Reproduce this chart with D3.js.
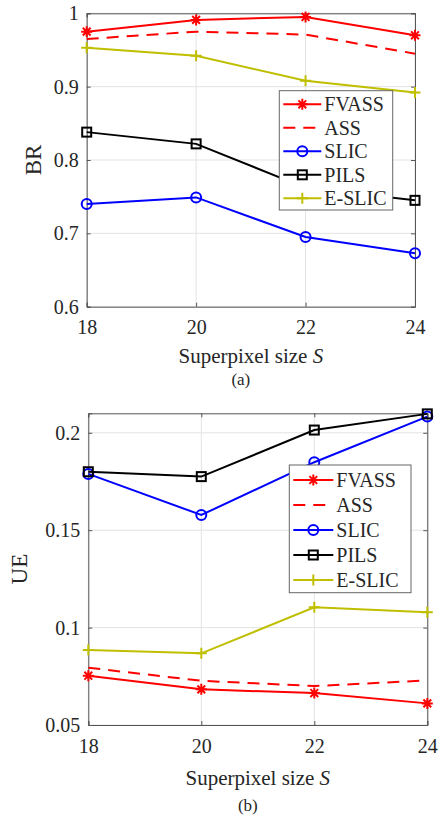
<!DOCTYPE html>
<html>
<head>
<meta charset="utf-8">
<script src="https://cdn.jsdelivr.net/npm/d3@7"></script>
<style>
  html, body { margin: 0; padding: 0; background: #fff; }
  svg { display: block; }
</style>
</head>
<body>
<svg id="fig" width="439" height="819"></svg>
<script>
// Superpixel sizes on the x axis
const sizes = [18, 20, 22, 24];

// Boundary recall (BR)
const brFVASS = [0.975, 0.991, 0.995, 0.970];
const brASS   = [0.965, 0.975, 0.971, 0.945];
const brSLIC  = [0.740, 0.749, 0.695, 0.673];
const brPILS  = [0.838, 0.822, 0.762, 0.745];
const brESLIC = [0.953, 0.942, 0.908, 0.892];
const brTicks = [0.6, 0.7, 0.8, 0.9, 1];
const brTickLabels = ["0.6", "0.7", "0.8", "0.9", "1"];

// Under-segmentation error (UE)
const ueFVASS = [0.0753, 0.0683, 0.0664, 0.0611];
const ueASS   = [0.0794, 0.0727, 0.0700, 0.0729];
const ueSLIC  = [0.1789, 0.1578, 0.1849, 0.2083];
const uePILS  = [0.1800, 0.1775, 0.2014, 0.2097];
const ueESLIC = [0.0885, 0.0868, 0.1104, 0.1079];
const ueTicks = [0.05, 0.1, 0.15, 0.2];
const ueTickLabels = ["0.05", "0.1", "0.15", "0.2"];

const methods = ["FVASS", "ASS", "SLIC", "PILS", "E-SLIC"];

const styles = {
  "FVASS":  { color: "#ff0000", dash: null,   marker: "star" },
  "ASS":    { color: "#ff0000", dash: "12,8", marker: null },
  "SLIC":   { color: "#0000ff", dash: null,   marker: "circle" },
  "PILS":   { color: "#000000", dash: null,   marker: "square" },
  "E-SLIC": { color: "#bfbf00", dash: null,   marker: "plus" }
};

const FONT = '"Liberation Serif"';
const TEXT_COLOR = "#262626";

const svg = d3.select("#fig").style("font-family", FONT);

function drawMarker(g, type, cx, cy, color) {
  if (type === "circle") {
    g.append("circle").attr("cx", cx).attr("cy", cy).attr("r", 5)
      .attr("fill", "none").attr("stroke", color).attr("stroke-width", 2);
  } else if (type === "square") {
    g.append("rect").attr("x", cx - 4.5).attr("y", cy - 4.5)
      .attr("width", 9).attr("height", 9)
      .attr("fill", "none").attr("stroke", color).attr("stroke-width", 2);
  } else if (type === "plus") {
    const r = 5.5;
    g.append("path").attr("d", `M${cx - r},${cy}H${cx + r}M${cx},${cy - r}V${cy + r}`)
      .attr("stroke", color).attr("stroke-width", 2).attr("fill", "none");
  } else if (type === "star") {
    const r = 5.5, d = r * Math.SQRT1_2;
    g.append("path")
      .attr("d", `M${cx - r},${cy}H${cx + r}M${cx},${cy - r}V${cy + r}` +
                 `M${cx - d},${cy - d}L${cx + d},${cy + d}M${cx - d},${cy + d}L${cx + d},${cy - d}`)
      .attr("stroke", color).attr("stroke-width", 2).attr("fill", "none");
  }
}

function label(sel, size) {
  return sel.style("font-family", FONT).attr("font-size", size).attr("fill", TEXT_COLOR);
}

function drawPanel(cfg) {
  const { left, top, width, height, yDomain, yTicks, yTickLabels, series,
          yLabel, yLabelX, caption, legend } = cfg;
  const g = svg.append("g");

  const x = d3.scaleLinear().domain([18, 24]).range([left, left + width]);
  const y = d3.scaleLinear().domain(yDomain).range([top + height, top]);

  // grid
  const grid = g.append("g").attr("stroke", "#e3e3e3").attr("stroke-width", 1);
  sizes.forEach(v => grid.append("line")
    .attr("x1", x(v)).attr("x2", x(v)).attr("y1", top).attr("y2", top + height));
  yTicks.forEach(v => grid.append("line")
    .attr("x1", left).attr("x2", left + width).attr("y1", y(v)).attr("y2", y(v)));

  // axes with inward ticks on all four sides
  const axisColor = "#555";
  const xAxis = g.append("g").attr("transform", `translate(0,${top + height})`)
    .call(d3.axisBottom(x).tickValues(sizes).tickSize(-4).tickFormat(d3.format("d")));
  const yAxis = g.append("g").attr("transform", `translate(${left},0)`)
    .call(d3.axisLeft(y).tickValues(yTicks).tickSize(-4)
      .tickFormat((d, i) => yTickLabels[i]));
  const xTop = g.append("g").attr("transform", `translate(0,${top})`)
    .call(d3.axisTop(x).tickValues(sizes).tickSize(-4).tickFormat(""));
  const yRight = g.append("g").attr("transform", `translate(${left + width},0)`)
    .call(d3.axisRight(y).tickValues(yTicks).tickSize(-4).tickFormat(""));

  [xAxis, yAxis, xTop, yRight].forEach(a => {
    a.attr("font-family", null);
    a.select(".domain").attr("stroke", axisColor).attr("stroke-width", 1);
    a.selectAll(".tick line").attr("stroke", axisColor);
  });
  label(xAxis.selectAll(".tick text"), 20).attr("y", cfg.xTickBase).attr("dy", 0);
  label(yAxis.selectAll(".tick text"), 20).attr("x", -8).attr("dy", "0.33em");

  // series
  const line = d3.line().x((d, i) => x(sizes[i])).y(d => y(d));
  methods.forEach(m => {
    const s = styles[m];
    g.append("path").datum(series[m])
      .attr("d", line).attr("fill", "none")
      .attr("stroke", s.color).attr("stroke-width", 2)
      .attr("stroke-dasharray", s.dash);
    if (s.marker) {
      series[m].forEach((v, i) => drawMarker(g, s.marker, x(sizes[i]), y(v), s.color));
    }
  });

  // axis titles
  const xl = label(g.append("text"), 21)
    .attr("x", left + width / 2).attr("y", cfg.xLabelBase)
    .attr("text-anchor", "middle");
  xl.append("tspan").text("Superpixel size ");
  xl.append("tspan").attr("font-style", "italic").text("S");

  label(g.append("text"), 23)
    .attr("transform", `translate(${yLabelX},${top + height / 2}) rotate(-90)`)
    .attr("text-anchor", "middle").attr("dy", "0.35em")
    .text(yLabel);

  label(g.append("text"), 17)
    .attr("x", left + width / 2 - 10).attr("y", cfg.captionBase)
    .attr("text-anchor", "middle").text(caption);

  // legend
  const lg = g.append("g");
  lg.append("rect").attr("x", legend.x).attr("y", legend.y)
    .attr("width", legend.w).attr("height", legend.h)
    .attr("fill", "#fff").attr("stroke", "#666").attr("stroke-width", 1);
  methods.forEach((m, i) => {
    const s = styles[m];
    const cy = legend.y + legend.first + i * legend.step;
    const x0 = legend.x + 4, x1 = legend.x + 4 + legend.sample;
    lg.append("line").attr("x1", x0).attr("x2", x1).attr("y1", cy).attr("y2", cy)
      .attr("stroke", s.color).attr("stroke-width", 2)
      .attr("stroke-dasharray", s.dash);
    if (s.marker) drawMarker(lg, s.marker, (x0 + x1) / 2, cy, s.color);
    label(lg.append("text"), 20).attr("x", x1 + 3).attr("y", cy + 7).text(m);
  });
}

drawPanel({
  left: 86.7, top: 13.3, width: 328.3, height: 293.4,
  yDomain: [0.6, 1.0], yTicks: brTicks, yTickLabels: brTickLabels,
  series: { "FVASS": brFVASS, "ASS": brASS, "SLIC": brSLIC, "PILS": brPILS, "E-SLIC": brESLIC },
  yLabel: "BR", yLabelX: 33,
  xTickBase: 27, xLabelBase: 363, caption: "(a)", captionBase: 385,
  legend: { x: 279.3, y: 90.7, w: 113.4, h: 119.3, first: 13.6, step: 23.5, sample: 38 }
});

drawPanel({
  left: 88.3, top: 413.3, width: 339, height: 311.7,
  yDomain: [0.05, 0.21], yTicks: ueTicks, yTickLabels: ueTickLabels,
  series: { "FVASS": ueFVASS, "ASS": ueASS, "SLIC": ueSLIC, "PILS": uePILS, "E-SLIC": ueESLIC },
  yLabel: "UE", yLabelX: 19,
  xTickBase: 28.3, xLabelBase: 785, caption: "(b)", captionBase: 811,
  legend: { x: 289.3, y: 465, w: 121.7, h: 127.7, first: 15, step: 25, sample: 40 }
});
</script>
</body>
</html>
